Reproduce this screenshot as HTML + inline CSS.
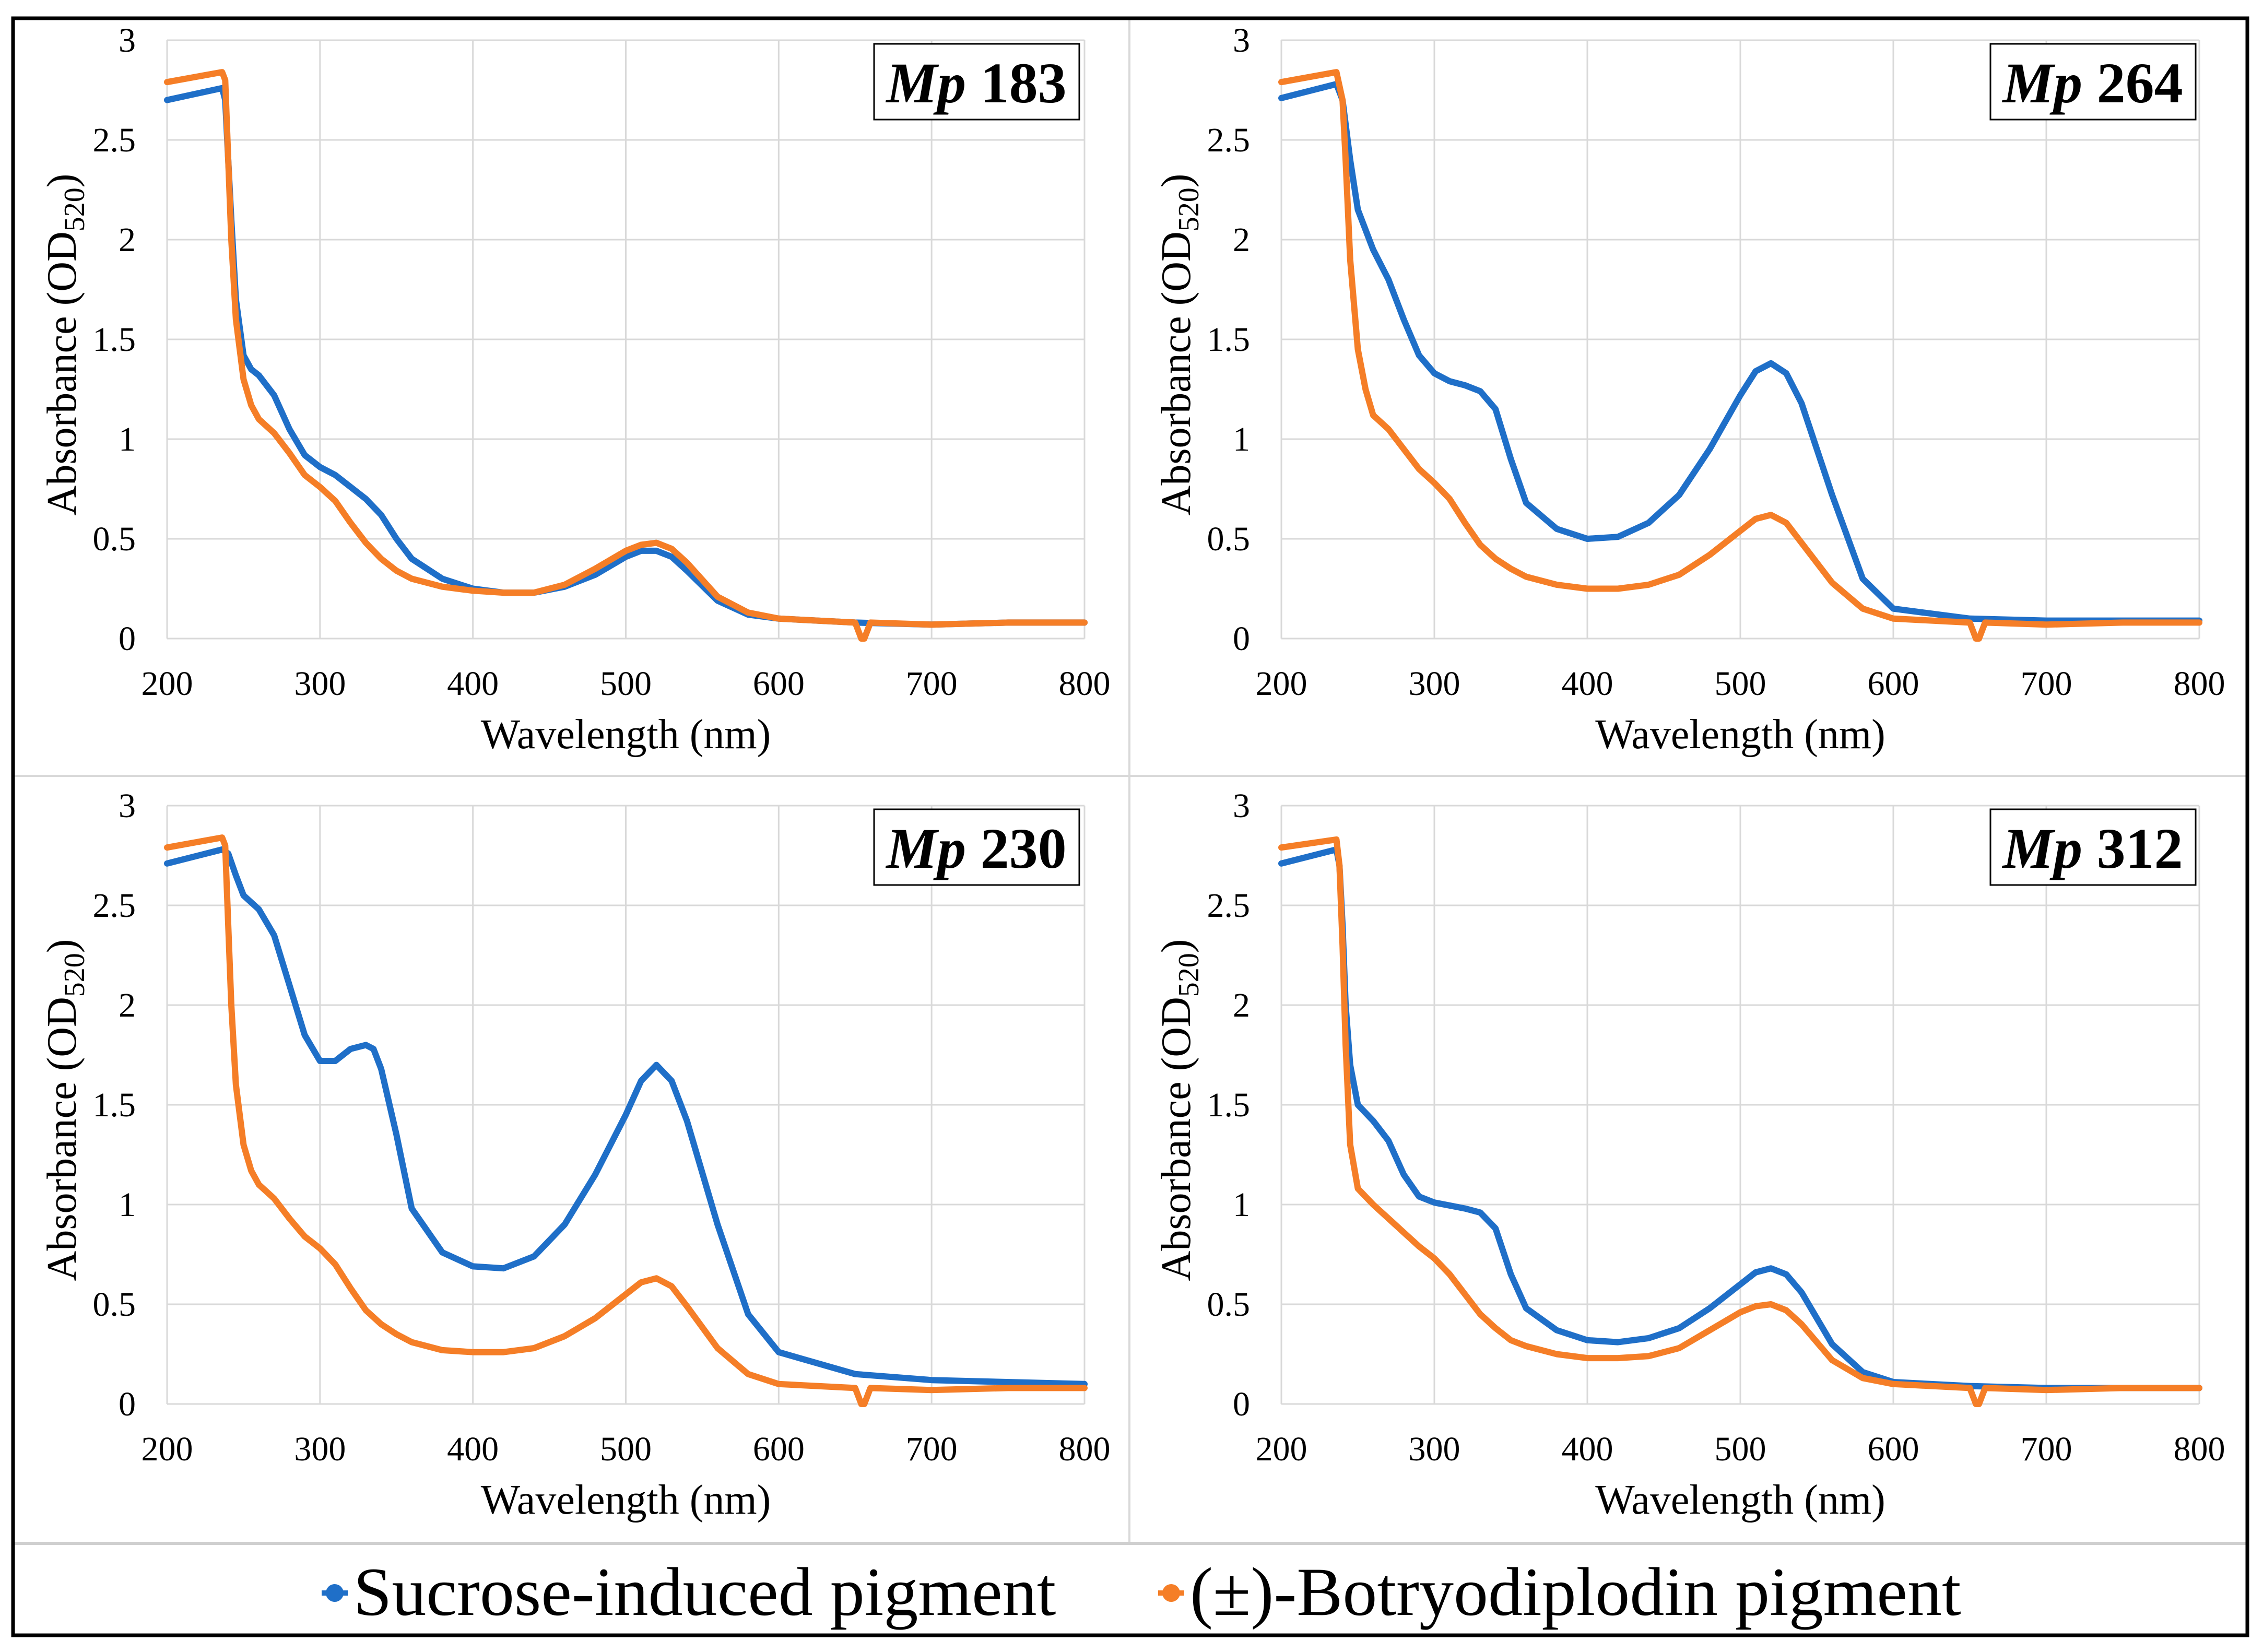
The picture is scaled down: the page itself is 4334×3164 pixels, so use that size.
<!DOCTYPE html>
<html><head><meta charset="utf-8"><style>
html,body{margin:0;padding:0;background:#fff;}
svg{display:block;font-family:"Liberation Serif",serif;}
</style></head><body>
<svg id="chart" width="4334" height="3164" viewBox="0 0 4334 3164" xmlns="http://www.w3.org/2000/svg">
<rect x="0" y="0" width="4334" height="3164" fill="#fff"/>
</svg>
<script>
const xTicks = [200,300,400,500,600,700,800];
const yTicks = [0,0.5,1,1.5,2,2.5,3];
const yTickLabels = ["0","0.5","1","1.5","2","2.5","3"];
const panelNames = ["183","264","230","312"];

const blue183X = [200,236,238,240,242,245,250,255,260,270,280,290,300,310,320,330,340,350,360,380,400,420,440,460,480,500,510,520,530,540,560,580,600,650,700,750,800];
const blue183Y = [2.70,2.76,2.7,2.4,2.1,1.7,1.42,1.35,1.32,1.22,1.05,0.92,0.86,0.82,0.76,0.7,0.62,0.5,0.4,0.3,0.25,0.23,0.23,0.26,0.32,0.41,0.44,0.44,0.41,0.34,0.19,0.12,0.1,0.08,0.07,0.08,0.08];
const orange183X = [200,236,238,240,242,245,250,255,260,270,280,290,300,310,320,330,340,350,360,380,400,420,440,460,480,500,510,520,530,540,560,580,600,650,654,656,660,700,750,800];
const orange183Y = [2.79,2.84,2.8,2.4,2.0,1.6,1.3,1.17,1.1,1.03,0.93,0.82,0.76,0.69,0.58,0.48,0.4,0.34,0.3,0.26,0.24,0.23,0.23,0.27,0.35,0.44,0.47,0.48,0.45,0.38,0.21,0.13,0.1,0.08,0.0,0.0,0.08,0.07,0.08,0.08];

const blue264X = [200,236,240,245,250,260,270,280,290,300,310,320,330,340,350,360,380,400,420,440,460,480,500,510,520,530,540,560,580,600,650,700,750,800];
const blue264Y = [2.71,2.78,2.7,2.4,2.15,1.95,1.8,1.6,1.42,1.33,1.29,1.27,1.24,1.15,0.9,0.68,0.55,0.5,0.51,0.58,0.72,0.95,1.22,1.34,1.38,1.33,1.18,0.72,0.3,0.15,0.1,0.09,0.09,0.09];
const orange264X = [200,236,240,242,245,250,255,260,270,280,290,300,310,320,330,340,350,360,380,400,420,440,460,480,500,510,520,530,540,560,580,600,650,654,656,660,700,750,800];
const orange264Y = [2.79,2.84,2.7,2.4,1.9,1.45,1.25,1.12,1.05,0.95,0.85,0.78,0.7,0.58,0.47,0.4,0.35,0.31,0.27,0.25,0.25,0.27,0.32,0.42,0.54,0.6,0.62,0.58,0.48,0.28,0.15,0.1,0.08,0.0,0.0,0.08,0.07,0.08,0.08];

const blue230X = [200,236,240,245,250,260,270,280,290,300,310,320,330,335,340,350,360,380,400,420,440,460,480,500,510,520,530,540,560,580,600,650,700,750,800];
const blue230Y = [2.71,2.78,2.76,2.65,2.55,2.48,2.35,2.1,1.85,1.72,1.72,1.78,1.8,1.78,1.68,1.35,0.98,0.76,0.69,0.68,0.74,0.9,1.15,1.45,1.62,1.7,1.62,1.42,0.9,0.45,0.26,0.15,0.12,0.11,0.1];
const orange230X = [200,236,238,240,242,245,250,255,260,270,280,290,300,310,320,330,340,350,360,380,400,420,440,460,480,500,510,520,530,540,560,580,600,650,654,656,660,700,750,800];
const orange230Y = [2.79,2.84,2.8,2.4,2.0,1.6,1.3,1.17,1.1,1.03,0.93,0.84,0.78,0.7,0.58,0.47,0.4,0.35,0.31,0.27,0.26,0.26,0.28,0.34,0.43,0.55,0.61,0.63,0.59,0.49,0.28,0.15,0.1,0.08,0.0,0.0,0.08,0.07,0.08,0.08];

const blue312X = [200,236,238,240,242,245,250,260,270,280,290,300,320,330,340,350,360,380,400,420,440,460,480,500,510,520,530,540,560,580,600,650,700,750,800];
const blue312Y = [2.71,2.78,2.7,2.4,2.0,1.7,1.5,1.42,1.32,1.15,1.04,1.01,0.98,0.96,0.88,0.65,0.48,0.37,0.32,0.31,0.33,0.38,0.48,0.6,0.66,0.68,0.65,0.56,0.3,0.16,0.11,0.09,0.08,0.08,0.08];
const orange312X = [200,236,238,240,242,245,250,260,270,280,290,300,310,320,330,340,350,360,380,400,420,440,460,480,500,510,520,530,540,560,580,600,650,654,656,660,700,750,800];
const orange312Y = [2.79,2.83,2.7,2.3,1.8,1.3,1.08,1.0,0.93,0.86,0.79,0.73,0.65,0.55,0.45,0.38,0.32,0.29,0.25,0.23,0.23,0.24,0.28,0.37,0.46,0.49,0.5,0.47,0.4,0.22,0.13,0.1,0.08,0.0,0.0,0.08,0.07,0.08,0.08];

const NS = "http://www.w3.org/2000/svg";
const svg = document.getElementById("chart");
const BLUE = "#1f6fc8", ORANGE = "#f57e27";

function mk(tag, attrs, parent){
  const e = document.createElementNS(NS, tag);
  for (const k in attrs) e.setAttribute(k, attrs[k]);
  (parent||svg).appendChild(e);
  return e;
}

const panels = [
  {name:panelNames[0], L:320, T:77, R:2077, B:1223, bx:[blue183X,blue183Y], ox:[orange183X,orange183Y], boxX:1674},
  {name:panelNames[1], L:2454, T:77, R:4212, B:1223, bx:[blue264X,blue264Y], ox:[orange264X,orange264Y], boxX:3812},
  {name:panelNames[2], L:320, T:1543, R:2077, B:2689, bx:[blue230X,blue230Y], ox:[orange230X,orange230Y], boxX:1674},
  {name:panelNames[3], L:2454, T:1543, R:4212, B:2689, bx:[blue312X,blue312Y], ox:[orange312X,orange312Y], boxX:3812}
];

// panel dividers
let d;
d = mk("line",{x1:2163,y1:35,x2:2163,y2:2956,stroke:"#d9d9d9","stroke-width":4});


d = mk("line",{x1:25,y1:1486,x2:4304,y2:1486,stroke:"#d9d9d9","stroke-width":4});


d = mk("line",{x1:25,y1:2956,x2:4304,y2:2956,stroke:"#cfcfcf","stroke-width":6});



panels.forEach((p, i) => {
  const g = mk("g", {});
  
  
  const sx = v => p.L + (v - 200) / 600 * (p.R - p.L);
  const sy = v => p.B - v / 3 * (p.B - p.T);
  xTicks.forEach(t => {
    const l = mk("line",{x1:sx(t),y1:p.T,x2:sx(t),y2:p.B,stroke:"#d9d9d9","stroke-width":3}, g);
    
    
    const tx = mk("text",{x:sx(t),y:p.B+108,"font-size":66,"text-anchor":"middle",fill:"#000"}, g);
    
    
    tx.textContent = t;
  });
  yTicks.forEach((t, k) => {
    const l = mk("line",{x1:p.L,y1:sy(t),x2:p.R,y2:sy(t),stroke:"#d9d9d9","stroke-width":3}, g);
    
    
    const tx = mk("text",{x:p.L-60,y:sy(t)+22,"font-size":66,"text-anchor":"end",fill:"#000"}, g);
    
    
    tx.textContent = yTickLabels[k];
  });
  const xt = mk("text",{x:(p.L+p.R)/2,y:p.B+210,"font-size":80,"text-anchor":"middle",fill:"#000"}, g);
  
  
  xt.textContent = "Wavelength (nm)";
  const cy = (p.T+p.B)/2 + 10;
  const yt = mk("text",{x:0,y:0,"font-size":80,"text-anchor":"middle",fill:"#000",transform:`translate(${p.L-175},${cy}) rotate(-90)`}, g);
  
  
  yt.innerHTML = 'Absorbance (OD<tspan font-size="56" dy="16">520</tspan><tspan dy="-16">)</tspan>';

  [[p.bx, BLUE, 'series-sucrose-induced'], [p.ox, ORANGE, 'series-botryodiplodin']].forEach(([s, c, nm]) => {
    const pts = s[0].map((x, j) => sx(x).toFixed(1) + "," + sy(s[1][j]).toFixed(1)).join(" ");
    const pl = mk("polyline",{points:pts,fill:"none",stroke:c,"stroke-width":12,"stroke-linejoin":"round","stroke-linecap":"round"}, g);
    
    
  });

  const top = p.T + 7;
  const bx = mk("rect",{x:p.boxX,y:top,width:393,height:145,fill:"#fff",stroke:"#000","stroke-width":3}, g);
  
  
  const lt = mk("text",{x:p.boxX+196,y:top+112,"font-size":110,"font-weight":"bold","text-anchor":"middle",fill:"#000"}, g);
  
  
  lt.innerHTML = '<tspan font-style="italic">Mp</tspan> ' + p.name;
});

// legend
const lg = mk("g", {});


const legendItems = [[641, 677, BLUE, "Sucrose-induced pigment", 'legend-entry-sucrose'], [2243, 2279, ORANGE, "(\u00b1)-Botryodiplodin pigment", 'legend-entry-botryodiplodin']];
legendItems.forEach(([mx, tx, c, label, nm]) => {
  const e = mk("g", {}, lg);
  
  
  mk("line",{x1:mx-25,y1:3051,x2:mx+25,y2:3051,stroke:c,"stroke-width":10}, e);
  mk("circle",{cx:mx,cy:3051,r:17,fill:c}, e);
  const t = mk("text",{x:tx,y:3093,"font-size":132,fill:"#000"}, e);
  t.textContent = label;
});

// outer border
const ob = mk("rect",{x:25,y:35,width:4279,height:3097,fill:"none",stroke:"#000","stroke-width":7});


</script>
</body></html>
